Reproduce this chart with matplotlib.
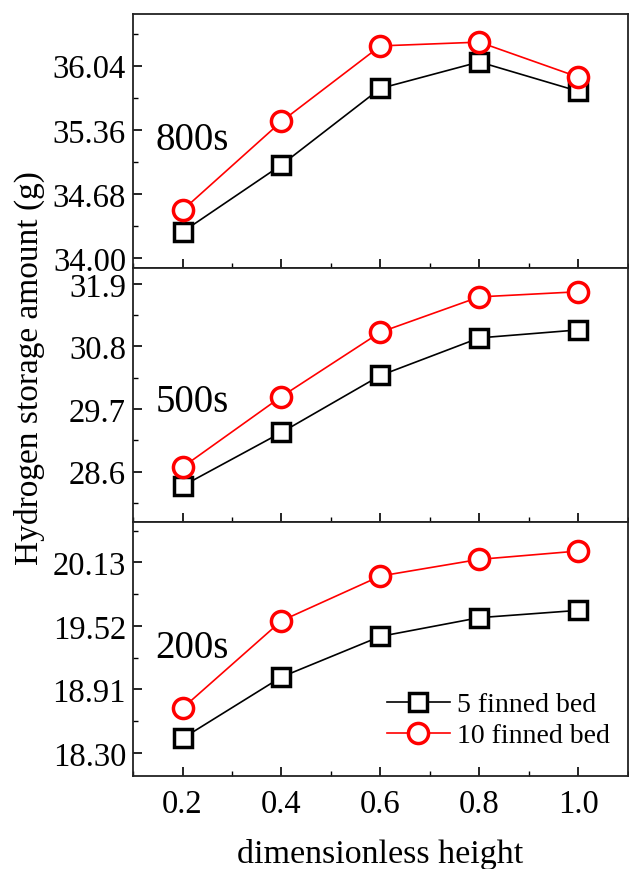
import matplotlib
matplotlib.use("Agg")
import matplotlib.pyplot as plt
from matplotlib.ticker import FixedLocator, AutoMinorLocator, FormatStrFormatter

plt.rcParams['font.family'] = ['Liberation Serif', 'DejaVu Serif']

x = [0.2, 0.4, 0.6, 0.8, 1.0]

# 800 s
y800_5 = [34.28, 34.99, 35.80, 36.08, 35.77]
y800_10 = [34.51, 35.45, 36.25, 36.29, 35.92]
# 500 s
y500_5 = [28.35, 29.29, 30.29, 30.95, 31.09]
y500_10 = [28.68, 29.92, 31.05, 31.67, 31.76]
# 200 s
y200_5 = [18.44, 19.03, 19.42, 19.60, 19.67]
y200_10 = [18.73, 19.57, 20.00, 20.16, 20.24]

yticks800 = [34.00, 34.68, 35.36, 36.04]
yticks500 = [28.6, 29.7, 30.8, 31.9]
yticks200 = [18.30, 18.91, 19.52, 20.13]

xticks = [0.2, 0.4, 0.6, 0.8, 1.0]
labels = ["5 finned bed", "10 finned bed"]
panel_labels = ["800s", "500s", "200s"]

fig = plt.figure(figsize=(6.29, 8.70), dpi=100)
left, right = 0.2115, 0.998
top, bottom = 0.983, 0.107
h = (top - bottom) / 3

panels = [
    (y800_5, y800_10, yticks800, (33.90, 36.59), '%.2f', panel_labels[0], 0.505),
    (y500_5, y500_10, yticks500, (27.72, 32.18), '%.1f', panel_labels[1], 0.472),
    (y200_5, y200_10, yticks200, (18.08, 20.52), '%.2f', panel_labels[2], 0.505),
]

axes = []
for i, (a, b, yt, yl, fmt, pl, py) in enumerate(panels):
    ax = fig.add_axes([left, top - (i + 1) * h, right - left, h])
    ax.plot(x, a, '-', color='black', lw=1.2, marker='s', ms=13, mfc='white',
            mec='black', mew=2.5, label=labels[0])
    ax.plot(x, b, '-', color='red', lw=1.2, marker='o', ms=14.5, mfc='white',
            mec='red', mew=2.5, label=labels[1])
    ax.set_xlim(0.1, 1.1)
    ax.set_ylim(*yl)
    ax.yaxis.set_major_locator(FixedLocator(yt))
    ax.yaxis.set_major_formatter(FormatStrFormatter(fmt))
    ax.yaxis.set_minor_locator(AutoMinorLocator(2))
    ax.xaxis.set_major_locator(FixedLocator(xticks))
    ax.xaxis.set_minor_locator(AutoMinorLocator(2))
    ax.tick_params(which='major', direction='in', length=6.5, width=1.2,
                   labelsize=23.5, pad=5, top=False, right=False)
    ax.tick_params(which='minor', direction='in', length=3.5, width=1.0,
                   top=False, right=False)
    for s in ax.spines.values():
        s.set_linewidth(1.3)
        s.set_color('#222222')
    ax.text(0.045, py, pl, transform=ax.transAxes, fontsize=28,
            ha='left', va='center')
    if i < 2:
        ax.tick_params(labelbottom=False)
    axes.append(ax)

axes[2].set_xticklabels(['0.2', '0.4', '0.6', '0.8', '1.0'])
axes[2].tick_params(axis='x', pad=9)
axes[2].set_xlabel('dimensionless height', fontsize=24.5, labelpad=14)
axes[2].legend(loc='lower left', bbox_to_anchor=(0.49, 0.065), frameon=False,
               fontsize=20, handlelength=2.3, handletextpad=0.25,
               labelspacing=0.2, borderaxespad=0)
fig.text(0.047, 1 - 368 / 870, 'Hydrogen storage amount (g)',
         rotation=90, fontsize=24, ha='center', va='center')

fig.savefig('out.png', dpi=100)
